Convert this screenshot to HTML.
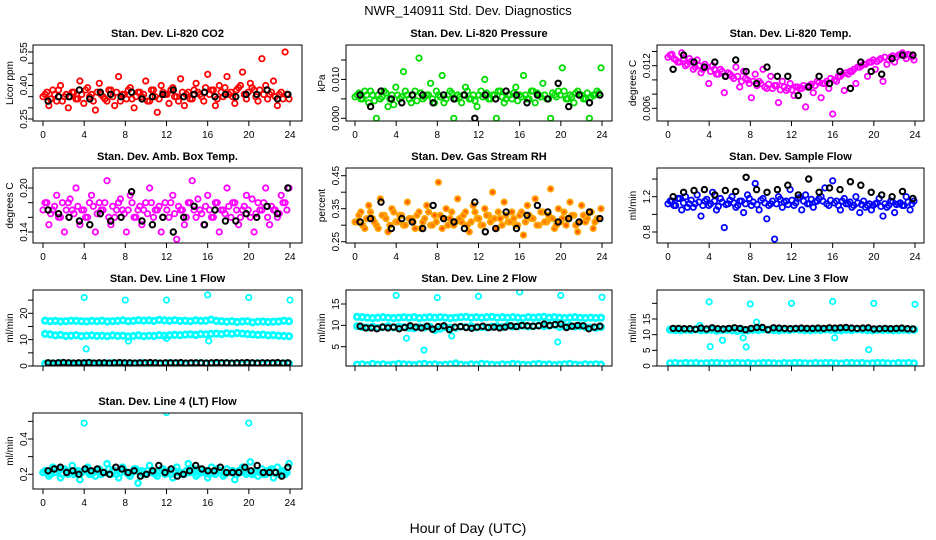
<!DOCTYPE html>
<html><head><meta charset="utf-8"><style>
html,body{margin:0;padding:0;background:#fff;}
svg{display:block;font-family:"Liberation Sans",sans-serif;}
</style></head><body>
<svg id="chart" width="936" height="540" viewBox="0 0 936 540" xmlns="http://www.w3.org/2000/svg">
<rect width="936" height="540" fill="#fff"/>
<text x="468" y="15" text-anchor="middle" font-size="13">NWR_140911 Std. Dev. Diagnostics</text>
<text x="468" y="533" text-anchor="middle" font-size="14">Hour of Day (UTC)</text>
</svg>
<script>
// ---- data ----
const xTicks = [0,4,8,12,16,20,24];
const co2Red = [0.36,0.31,0.38,0.33,0.40,0.35,0.30,0.37,0.34,0.42,0.32,0.39,0.36,0.29,0.41,0.35,0.33,0.38,0.31,0.44,0.36,0.34,0.39,0.30,0.37,0.35,0.42,0.33,0.38,0.28,0.40,0.36,0.32,0.39,0.35,0.43,0.31,0.37,0.34,0.41,0.36,0.33,0.45,0.38,0.31,0.40,0.35,0.44,0.37,0.32,0.39,0.46,0.34,0.41,0.38,0.33,0.52,0.40,0.36,0.42,0.31,0.37,0.55,0.34];
const co2Red2 = [0.35,0.37,0.34,0.36,0.38,0.33,0.36,0.35,0.37,0.34,0.36,0.38,0.35,0.33,0.37,0.36,0.34,0.38,0.35,0.37,0.33,0.36,0.38,0.34,0.35,0.37,0.36,0.33,0.38,0.35,0.34,0.37,0.36,0.38,0.35,0.33,0.37,0.36,0.34,0.38,0.37,0.35,0.39,0.36,0.38,0.34,0.37,0.39,0.36,0.35,0.38,0.40,0.36,0.37,0.39,0.35,0.38,0.36,0.34,0.37,0.35,0.36,0.34,0.36];
const co2Black = [0.33,0.35,0.35,0.38,0.34,0.37,0.36,0.35,0.37,0.34,0.35,0.36,0.38,0.35,0.36,0.37,0.35,0.36,0.35,0.36,0.36,0.38,0.34,0.36];
const presGreen = [0.006,0.005,0.007,0.004,0.006,0.000,0.005,0.007,0.003,0.006,0.008,0.005,0.012,0.006,0.004,0.007,0.0155,0.005,0.006,0.009,0.004,0.006,0.011,0.005,0.007,0.000,0.006,0.004,0.008,0.005,0.006,0.003,0.007,0.010,0.005,0.006,0.000,0.007,0.004,0.006,0.005,0.008,0.006,0.011,0.005,0.007,0.004,0.006,0.009,0.005,0.000,0.006,0.007,0.013,0.005,0.006,0.004,0.007,0.006,0.005,0.000,0.006,0.007,0.013];
const presGreen2 = [0.0055,0.0065,0.005,0.006,0.007,0.0045,0.006,0.0055,0.0065,0.005,0.0035,0.006,0.0055,0.007,0.005,0.006,0.0045,0.0065,0.0055,0.006,0.005,0.007,0.0055,0.004,0.006,0.0065,0.005,0.0055,0.006,0.007,0.005,0.0045,0.006,0.0055,0.0065,0.005,0.006,0.007,0.0055,0.005,0.006,0.0065,0.0045,0.0055,0.006,0.005,0.007,0.0065,0.0055,0.006,0.005,0.0065,0.0055,0.006,0.007,0.005,0.0055,0.0065,0.006,0.005,0.0065,0.0055,0.006,0.0065];
const presBlack = [0.006,0.003,0.007,0.005,0.004,0.006,0.006,0.004,0.006,0.005,0.006,0.000,0.006,0.005,0.007,0.006,0.004,0.006,0.005,0.009,0.003,0.006,0.004,0.006];
const tempMag = [0.0135,0.013,0.0125,0.0138,0.012,0.013,0.0115,0.0128,0.011,0.0122,0.0095,0.012,0.0108,0.0115,0.0082,0.011,0.0105,0.0118,0.009,0.0112,0.010,0.0075,0.0108,0.0098,0.0115,0.0088,0.0105,0.0092,0.0068,0.0098,0.0085,0.0095,0.0078,0.009,0.0088,0.0062,0.0092,0.0082,0.0098,0.0075,0.0095,0.0088,0.0052,0.0098,0.0105,0.0085,0.0108,0.0112,0.0095,0.0118,0.0122,0.0105,0.0125,0.0115,0.0128,0.0098,0.0122,0.0132,0.0125,0.0135,0.0138,0.013,0.0135,0.0128];
const tempMag2 = [0.0132,0.0136,0.0128,0.0125,0.013,0.0122,0.0126,0.0118,0.012,0.0115,0.0118,0.0112,0.0115,0.0108,0.0112,0.0105,0.0108,0.0102,0.0105,0.0098,0.0102,0.0095,0.0098,0.0092,0.0095,0.009,0.0094,0.0088,0.0092,0.0086,0.009,0.0088,0.0086,0.009,0.0088,0.0092,0.009,0.0094,0.0092,0.0096,0.0095,0.0098,0.0102,0.01,0.0105,0.0108,0.011,0.0112,0.0115,0.0118,0.012,0.0122,0.0125,0.0128,0.0126,0.013,0.0132,0.0128,0.0134,0.0132,0.0136,0.0134,0.0136,0.0132];
const tempBlack = [0.0115,0.0135,0.0125,0.0118,0.0125,0.0105,0.0128,0.0112,0.0095,0.0118,0.0105,0.0105,0.0078,0.009,0.0105,0.0095,0.0112,0.0088,0.0125,0.0112,0.0108,0.013,0.0135,0.0135];
const ambMag = [0.18,0.15,0.17,0.19,0.16,0.14,0.18,0.17,0.20,0.15,0.17,0.16,0.19,0.14,0.18,0.17,0.21,0.15,0.16,0.18,0.17,0.14,0.19,0.16,0.17,0.15,0.18,0.20,0.16,0.17,0.14,0.18,0.16,0.19,0.13,0.17,0.15,0.18,0.21,0.16,0.17,0.15,0.19,0.16,0.18,0.14,0.17,0.20,0.16,0.18,0.15,0.17,0.19,0.16,0.14,0.18,0.17,0.20,0.15,0.17,0.16,0.19,0.18,0.20];
const ambMag2 = [0.17,0.18,0.165,0.175,0.16,0.18,0.17,0.185,0.165,0.175,0.17,0.16,0.18,0.175,0.165,0.17,0.18,0.16,0.175,0.17,0.185,0.165,0.17,0.18,0.16,0.175,0.17,0.165,0.18,0.17,0.175,0.16,0.17,0.18,0.165,0.175,0.17,0.16,0.18,0.17,0.185,0.165,0.175,0.17,0.16,0.18,0.17,0.165,0.175,0.18,0.17,0.16,0.175,0.17,0.185,0.165,0.17,0.18,0.16,0.175,0.17,0.165,0.18,0.17];
const ambBlack = [0.17,0.165,0.16,0.155,0.15,0.165,0.155,0.16,0.195,0.155,0.15,0.16,0.14,0.16,0.175,0.15,0.17,0.155,0.155,0.165,0.16,0.175,0.165,0.20];
const rhOrange = [0.31,0.34,0.29,0.36,0.32,0.30,0.38,0.33,0.28,0.35,0.31,0.33,0.30,0.37,0.32,0.29,0.34,0.31,0.36,0.30,0.33,0.43,0.29,0.35,0.32,0.30,0.38,0.31,0.34,0.28,0.36,0.32,0.30,0.35,0.33,0.40,0.29,0.32,0.37,0.31,0.34,0.30,0.33,0.27,0.36,0.32,0.38,0.30,0.34,0.31,0.41,0.29,0.35,0.32,0.30,0.37,0.33,0.28,0.36,0.31,0.34,0.29,0.32,0.35];
const rhOrange2 = [0.31,0.33,0.30,0.32,0.34,0.31,0.29,0.33,0.32,0.30,0.34,0.31,0.33,0.30,0.32,0.31,0.33,0.29,0.32,0.34,0.30,0.31,0.33,0.32,0.30,0.34,0.31,0.32,0.33,0.30,0.31,0.34,0.32,0.30,0.33,0.31,0.32,0.34,0.30,0.33,0.31,0.32,0.30,0.34,0.31,0.33,0.32,0.30,0.34,0.31,0.33,0.32,0.30,0.31,0.34,0.32,0.33,0.30,0.31,0.33,0.32,0.34,0.31,0.32];
const rhBlack = [0.31,0.32,0.37,0.29,0.32,0.31,0.29,0.36,0.32,0.31,0.29,0.37,0.28,0.29,0.34,0.29,0.33,0.36,0.34,0.31,0.32,0.31,0.34,0.32];
const flowBlue = [1.15,1.10,1.18,1.05,1.20,1.12,1.08,1.22,0.98,1.15,1.10,1.25,1.05,1.18,0.85,1.12,1.20,1.08,1.15,1.02,1.22,1.10,1.35,1.05,1.18,0.95,1.12,0.72,1.20,1.08,1.15,1.28,1.10,1.18,1.05,1.22,1.12,1.08,1.15,1.20,1.30,1.10,1.38,1.15,1.05,1.18,1.12,1.08,1.20,1.02,1.15,1.10,1.05,1.12,1.18,0.98,1.08,1.15,1.02,1.12,1.10,1.20,1.05,1.15];
const flowBlue2 = [1.12,1.15,1.10,1.18,1.13,1.08,1.16,1.12,1.14,1.10,1.17,1.12,1.15,1.09,1.14,1.11,1.16,1.13,1.10,1.15,1.12,1.18,1.14,1.11,1.16,1.13,1.10,1.15,1.12,1.17,1.14,1.11,1.16,1.13,1.19,1.15,1.12,1.17,1.14,1.18,1.15,1.12,1.16,1.13,1.10,1.15,1.12,1.14,1.10,1.13,1.11,1.08,1.12,1.10,1.13,1.09,1.12,1.10,1.14,1.11,1.13,1.10,1.14,1.12];
const flowBlack = [1.20,1.25,1.27,1.28,1.22,1.27,1.26,1.42,1.28,1.25,1.28,1.33,1.22,1.40,1.25,1.30,1.28,1.37,1.33,1.25,1.22,1.20,1.26,1.18];
const l1High = [17.2,17.0,17.1,16.9,17.0,17.2,17.1,17.0,16.9,17.1,17.0,17.2,16.9,17.0,17.1,17.3,17.0,17.1,17.4,17.2,17.3,17.1,17.5,17.3,17.2,17.4,17.1,17.2,17.0,17.3,17.1,17.2,17.6,17.1,17.0,16.8,17.0,16.7,16.9,17.0,16.6,16.8,16.9,16.7,16.8,16.9,17.2,17.0];
const l1Mid = [12.2,12.0,11.6,11.8,11.4,11.5,11.7,11.3,11.5,11.6,11.4,11.5,11.3,11.6,11.4,11.5,11.2,11.4,11.6,11.3,11.5,11.4,11.7,11.5,11.6,11.8,11.7,11.9,12.0,11.8,12.1,12.0,12.2,12.3,12.1,12.4,12.2,12.5,12.3,12.1,12.0,11.8,11.9,11.6,11.7,11.5,11.4,11.3];
const l1Low = [0.9,1.0,0.8,1.1,0.9,1.0,0.8,0.9,1.1,1.0,0.9,0.8,1.0,1.1,0.9,1.0,0.8,0.9,1.0,1.1,0.9,0.8,1.0,0.9,1.1,1.0,0.9,0.8,1.0,0.9,1.1,1.0,0.9,0.8,1.0,1.1,0.9,1.0,0.8,0.9,1.0,1.1,0.9,0.8,1.0,0.9,1.0,0.9];
const l1Black = [1.2,1.1,1.2,1.3,1.2,1.1,1.2,1.2,1.3,1.1,1.2,1.2,1.1,1.2,1.3,1.2,1.2,1.1,1.2,1.2,1.3,1.2,1.1,1.2,1.2,1.2,1.3,1.1,1.2,1.2,1.2,1.1,1.2,1.3,1.2,1.2,1.1,1.2,1.2,1.3,1.2,1.1,1.2,1.2,1.2,1.3,1.1,1.2];
const l1OutHour = [4,8,12,16,20,24,4.2,8.3,16.1,12];
const l1OutVal = [26,25,25,27,26,25,6.5,9.5,9.5,10.5];
const l2High = [12.0,11.9,11.8,11.7,11.8,11.9,11.8,11.7,11.8,11.9,11.8,11.9,11.7,11.8,11.9,11.8,11.9,11.8,11.7,11.8,11.9,12.0,11.8,11.9,11.8,11.9,12.0,11.8,11.9,11.8,11.9,11.8,11.7,11.9,11.8,11.9,12.0,11.8,11.9,11.8,11.7,11.8,11.9,11.8,11.7,11.8,11.7,11.8];
const l2Mid = [9.8,9.6,9.5,9.7,9.4,9.6,9.8,9.5,9.7,9.6,9.4,9.3,9.6,9.5,9.7,8.9,9.2,9.6,9.5,9.4,9.7,9.6,9.8,9.5,9.6,9.5,9.7,9.8,9.6,9.9,9.7,9.8,9.9,9.7,9.8,10.0,9.8,9.9,10.1,9.6,9.8,9.9,9.7,9.8,9.6,9.5,9.4,9.6];
const l2Black = [9.8,9.4,9.4,9.2,9.6,9.4,9.6,9.2,9.5,9.9,9.6,9.4,9.8,9.1,9.7,9.9,9.0,9.6,9.7,9.5,9.3,9.6,9.8,9.5,9.6,9.4,9.6,9.9,9.7,10.0,9.9,9.8,9.9,10.3,10.0,10.2,10.3,9.5,9.8,10.0,9.9,9.2,9.6,9.8];
const l2Low = [0.8,0.9,0.7,1.0,0.8,0.9,0.7,0.8,1.0,0.9,0.8,0.7,0.9,1.0,0.8,0.9,0.7,0.8,0.9,1.0,0.8,0.7,0.9,0.8,1.0,0.9,0.8,0.7,0.9,0.8,1.0,0.9,0.8,0.7,0.9,1.0,0.8,0.9,0.7,0.8,0.9,1.0,0.8,0.7,0.9,0.8,0.9,0.8];
const l2OutHour = [4,8,12,16,20,24,5,6.7,9.4,19.7,9.8];
const l2OutVal = [17,16.5,16.8,17.8,17,16.6,7,4.2,7.5,6.1,1.2];
const l3Band = [11.6,11.5,11.4,11.6,11.5,11.7,11.4,11.5,11.6,11.3,11.5,11.6,11.4,11.2,11.5,11.4,11.6,11.5,11.7,11.6,11.5,11.4,11.6,11.5,11.7,11.6,11.5,11.4,11.6,11.5,11.7,11.6,11.5,11.4,11.6,11.5,11.7,11.6,11.5,11.4,11.6,11.5,11.6,11.4,11.5,11.6,11.5,11.6];
const l3Black = [12.0,12.0,11.9,11.9,11.7,12.1,11.8,12.2,11.9,11.8,12.0,12.2,12.0,11.6,12.0,12.3,12.3,11.6,12.2,12.1,12.0,11.9,12.0,12.1,12.0,12.0,12.1,12.0,12.2,12.1,12.2,12.3,12.1,12.0,12.1,12.2,11.8,11.9,12.0,11.9,12.0,12.1,11.9,11.8];
const l3Low = [0.9,1.0,0.8,1.0,0.9,1.0,0.8,0.9,1.0,1.0,0.9,0.8,1.0,1.0,0.9,1.0,0.8,0.9,1.0,1.0,0.9,0.8,1.0,0.9,1.0,1.0,0.9,0.8,1.0,0.9,1.0,1.0,0.9,0.8,1.0,1.0,0.9,1.0,0.8,0.9,1.0,1.0,0.9,0.8,1.0,0.9,1.0,0.9];
const l3OutHour = [4,8,12,16,20,24,4.1,5.3,7.3,7.6,16.2,19.5,3.1,8.6];
const l3OutVal = [20.5,19.8,20,20.6,20,19.7,6.2,8.2,9,6.1,9,5.2,13,14];
const l4Cyan = [0.22,0.19,0.24,0.21,0.18,0.23,0.20,0.25,0.21,0.17,0.22,0.24,0.20,0.19,0.23,0.21,0.26,0.20,0.22,0.18,0.24,0.21,0.19,0.23,0.15,0.22,0.20,0.25,0.21,0.19,0.23,0.20,0.22,0.18,0.24,0.21,0.20,0.26,0.22,0.19,0.23,0.21,0.18,0.24,0.20,0.22,0.19,0.23,0.21,0.17,0.22,0.24,0.20,0.27,0.21,0.19,0.23,0.20,0.22,0.18,0.24,0.21,0.20,0.26];
const l4Cyan2 = [0.21,0.22,0.20,0.21,0.23,0.20,0.22,0.21,0.20,0.22,0.21,0.23,0.20,0.21,0.22,0.20,0.21,0.23,0.22,0.20,0.21,0.22,0.20,0.21,0.23,0.21,0.20,0.22,0.21,0.20,0.22,0.23,0.21,0.20,0.22,0.21,0.20,0.22,0.21,0.23,0.20,0.21,0.22,0.20,0.21,0.23,0.22,0.20,0.21,0.22,0.20,0.21,0.23,0.21,0.20,0.22,0.21,0.20,0.22,0.23,0.21,0.20,0.22,0.21];
const l4Black = [0.22,0.23,0.24,0.21,0.22,0.20,0.23,0.22,0.23,0.21,0.20,0.24,0.23,0.21,0.22,0.19,0.20,0.22,0.25,0.21,0.23,0.19,0.20,0.22,0.25,0.23,0.22,0.22,0.24,0.21,0.21,0.21,0.24,0.22,0.25,0.21,0.21,0.21,0.19,0.24];
const l4OutHour = [4,12,20];
const l4OutVal = [0.49,0.55,0.49];

// ---- layout ----
const SVGNS = "http://www.w3.org/2000/svg";
const svg = document.getElementById('chart');
const cols = [{b0:33,b1:302,x0:43,x1:290,yl:9,tl:24},{b0:346,b1:612,x0:355,x1:602,yl:321,tl:336},{b0:657,b1:924,x0:668,x1:915,yl:632,tl:647}];
const rows = [{t:45,b:121},{t:168,b:243},{t:290,b:366},{t:413,b:489}];
function mk(tag, attrs, parent){const e=document.createElementNS(SVGNS,tag);for(const k in attrs)e.setAttribute(k,attrs[k]);(parent||svg).appendChild(e);return e;}

function panel(opt){
  const c=cols[opt.col], r=rows[opt.row];
  const g=mk('g',{});
  
  
  const xs=h=>c.x0+(c.x1-c.x0)*h/24;
  const ys=v=>opt.p0+(opt.p1-opt.p0)*(v-opt.v0)/(opt.v1-opt.v0);
  const title=mk('text',{x:(c.b0+c.b1)/2,y:r.t-8,'text-anchor':'middle','font-size':'11','font-weight':'bold'},g);
  title.textContent=opt.title;
  
  
  const yt=mk('text',{x:0,y:0,'text-anchor':'middle','font-size':'10',transform:`translate(${c.yl+4},${(r.t+r.b)/2}) rotate(-90)`},g);
  yt.textContent=opt.ylab;
  
  
  const clip='clip'+opt.name;
  const cp=mk('clipPath',{id:clip},g); mk('rect',{x:c.b0,y:r.t,width:c.b1-c.b0,height:r.b-r.t},cp);
  const sg=mk('g',{'clip-path':`url(#${clip})`},g);
  opt.series.forEach(s=>{
    const n=s.vals.length;
    s.vals.forEach((v,i)=>{
      const h = s.hours ? s.hours[i] : (s.start + (s.end-s.start)*i/(n-1));
      const pt=mk('circle',{cx:xs(h).toFixed(1),cy:ys(v).toFixed(1),r:s.r||2.7,fill:s.fill||'none',stroke:s.color,'stroke-width':s.sw||1.8},sg);
      
      
    });
  });
  const box=mk('rect',{x:c.b0,y:r.t,width:c.b1-c.b0,height:r.b-r.t,fill:'none',stroke:'#000','stroke-width':1},g);
  
  
  xTicks.forEach(t=>{
    mk('line',{x1:xs(t),x2:xs(t),y1:r.b,y2:r.b+5,stroke:'#000'},g);
    if(opt.xlabels){const tx=mk('text',{x:xs(t),y:r.b+17,'text-anchor':'middle','font-size':'10'},g);tx.textContent=t;
      
      }
  });
  mk('line',{x1:xs(0),x2:xs(24),y1:r.b,y2:r.b,stroke:'#000'},g);
  opt.yticks.forEach(t=>{
    const y=ys(t);
    mk('line',{x1:c.b0,x2:c.b0-5,y1:y,y2:y,stroke:'#000'},g);
  });
  opt.ylabels.forEach(t=>{
    const y=ys(t);
    const tx=mk('text',{x:0,y:0,'text-anchor':'middle','font-size':'10',transform:`translate(${c.tl+3},${y}) rotate(-90)`},g);
    tx.textContent=opt.fmt?opt.fmt(t):t;
    
    
  });
}
const f2=v=>v.toFixed(2), f3=v=>v.toFixed(3), f1=v=>v.toFixed(1);
const S=(vals,color,name,extra)=>Object.assign({vals,color,name,start:0.2,end:23.9},extra||{});
const S2=(vals,color,name,extra)=>Object.assign({vals,color,name,start:0.0,end:23.7},extra||{});
const B=(vals,name)=>({vals,color:'#000',name,start:0.5,end:23.8,sw:2});

panel({name:'panel-co2',col:0,row:0,title:'Stan. Dev. Li-820 CO2',ylab:'Licor ppm',v0:0.55,p0:52,v1:0.25,p1:119,yticks:[0.25,0.30,0.35,0.40,0.45,0.50,0.55],ylabels:[0.25,0.40,0.55],fmt:f2,xlabels:true,
  series:[S(co2Red,'#ff0000','co2-point'),S2(co2Red2,'#ff0000','co2-point'),B(co2Black,'co2-black-point')]});
panel({name:'panel-pressure',col:1,row:0,title:'Stan. Dev. Li-820 Pressure',ylab:'kPa',v0:0,p0:118.3,v1:0.015,p1:60,yticks:[0,0.005,0.010,0.015],ylabels:[0,0.010],fmt:f3,xlabels:true,
  series:[S(presGreen,'#00dd00','pressure-point'),S2(presGreen2,'#00dd00','pressure-point'),B(presBlack,'pressure-black-point')]});
panel({name:'panel-temp',col:2,row:0,title:'Stan. Dev. Li-820 Temp.',ylab:'degrees C',v0:0.012,p0:65.7,v1:0.006,p1:108.3,yticks:[0.006,0.008,0.010,0.012,0.014],ylabels:[0.006,0.012],fmt:f3,xlabels:true,
  series:[S(tempMag,'#ff00ff','temp-point'),S2(tempMag2,'#ff00ff','temp-point'),B(tempBlack,'temp-black-point')]});
panel({name:'panel-amb-temp',col:0,row:1,title:'Stan. Dev. Amb. Box Temp.',ylab:'degrees C',v0:0.20,p0:188,v1:0.14,p1:232,yticks:[0.14,0.16,0.18,0.20],ylabels:[0.14,0.20],fmt:f2,xlabels:true,
  series:[S(ambMag,'#ff00ff','amb-temp-point'),S2(ambMag2,'#ff00ff','amb-temp-point'),B(ambBlack,'amb-temp-black-point')]});
panel({name:'panel-rh',col:1,row:1,title:'Stan. Dev. Gas Stream RH',ylab:'percent',v0:0.45,p0:175.7,v1:0.25,p1:241.7,yticks:[0.25,0.30,0.35,0.40,0.45],ylabels:[0.25,0.35,0.45],fmt:f2,xlabels:true,
  series:[S(rhOrange,'#ffa500','rh-point',{fill:'#ff5a00'}),S2(rhOrange2,'#ffa500','rh-point',{fill:'#ff7a00'}),B(rhBlack,'rh-black-point')]});
panel({name:'panel-sample-flow',col:2,row:1,title:'Stan. Dev. Sample Flow',ylab:'ml/min',v0:1.2,p0:196.7,v1:0.8,p1:232,yticks:[0.8,1.0,1.2,1.4],ylabels:[0.8,1.2],fmt:f1,xlabels:true,
  series:[S(flowBlue,'#0000ff','sample-flow-point'),S2(flowBlue2,'#0000ff','sample-flow-point'),B(flowBlack,'sample-flow-black-point')]});
panel({name:'panel-line1',col:0,row:2,title:'Stan. Dev. Line 1 Flow',ylab:'ml/min',v0:0,p0:366,v1:20,p1:313.3,yticks:[0,5,10,15,20,25],ylabels:[0,10,20],xlabels:false,
  series:[S(l1High,'#00ffff','line1-point',{sw:2.8}),S(l1Mid,'#00ffff','line1-point',{sw:2.8}),S(l1Low,'#00ffff','line1-point',{sw:2.6}),
    {vals:l1OutVal,hours:l1OutHour,color:'#00ffff',name:'line1-outlier'},B(l1Black,'line1-black-point')]});
panel({name:'panel-line2',col:1,row:2,title:'Stan. Dev. Line 2 Flow',ylab:'ml/min',v0:15,p0:304,v1:5,p1:346.7,yticks:[5,10,15],ylabels:[5,10,15],xlabels:false,
  series:[S(l2High,'#00ffff','line2-point',{sw:2.8}),S(l2Low,'#00ffff','line2-point',{sw:2.6}),S(l2Mid,'#00ffff','line2-point',{sw:2.6}),
    {vals:l2OutVal,hours:l2OutHour,color:'#00ffff',name:'line2-outlier'},B(l2Black,'line2-black-point')]});
panel({name:'panel-line3',col:2,row:2,title:'Stan. Dev. Line 3 Flow',ylab:'ml/min',v0:0,p0:366,v1:15,p1:319,yticks:[0,5,10,15,20],ylabels:[0,5,10,15],xlabels:false,
  series:[S(l3Band,'#00ffff','line3-point',{sw:3}),S(l3Low,'#00ffff','line3-point',{sw:2.6}),
    {vals:l3OutVal,hours:l3OutHour,color:'#00ffff',name:'line3-outlier'},B(l3Black,'line3-black-point')]});
panel({name:'panel-line4',col:0,row:3,title:'Stan. Dev. Line 4 (LT) Flow',ylab:'ml/min',v0:0.2,p0:474.3,v1:0.4,p1:439,yticks:[0.2,0.3,0.4,0.5],ylabels:[0.2,0.4],fmt:f1,xlabels:true,
  series:[S(l4Cyan,'#00ffff','line4-point',{sw:2.2}),S2(l4Cyan2,'#00ffff','line4-point',{sw:2.4}),{vals:l4OutVal,hours:l4OutHour,color:'#00ffff',name:'line4-outlier'},B(l4Black,'line4-black-point')]});
</script>
</body></html>
